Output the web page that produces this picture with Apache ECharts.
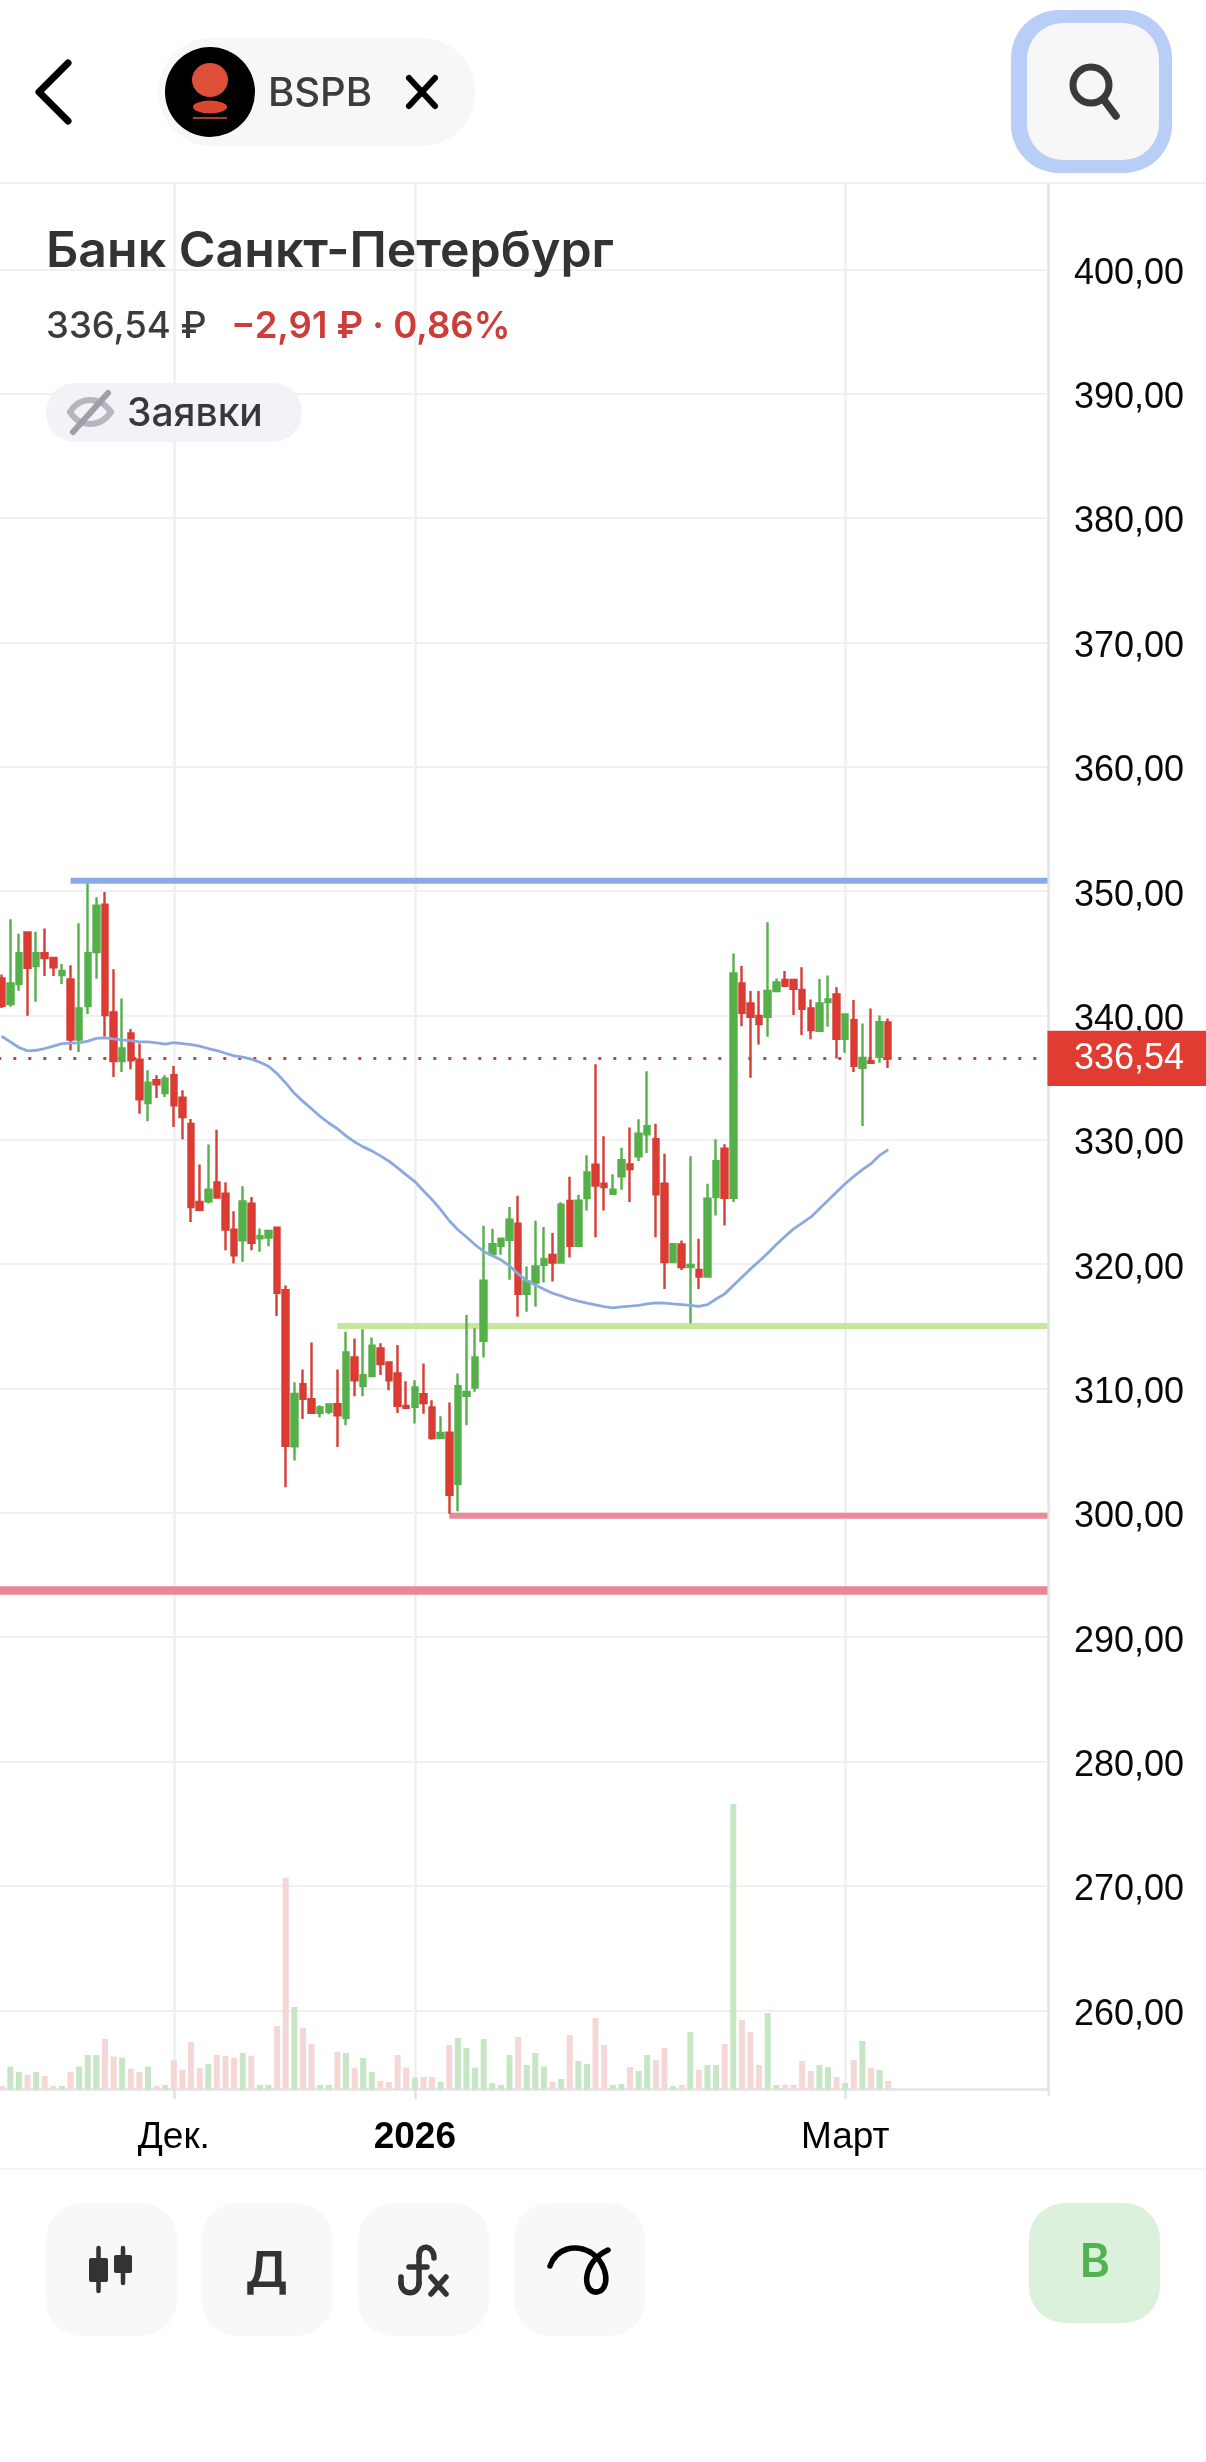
<!DOCTYPE html>
<html><head><meta charset="utf-8">
<style>html,body{margin:0;padding:0;background:#fff}#c{width:1206px;height:2462px}</style>
<script src="https://cdn.jsdelivr.net/npm/echarts@6/dist/echarts.min.js"></script>
</head><body><div id="c"></div>
<script>
const dates = ['2025-11-09','2025-11-10','2025-11-11','2025-11-12','2025-11-13','2025-11-14','2025-11-15','2025-11-16','2025-11-17','2025-11-18',
'2025-11-19','2025-11-20','2025-11-21','2025-11-24','2025-11-25','2025-11-26','2025-11-27','2025-11-28','2025-11-29','2025-11-30',
'2025-12-01','2025-12-02','2025-12-03','2025-12-04','2025-12-05','2025-12-08','2025-12-09','2025-12-10','2025-12-11','2025-12-12',
'2025-12-13','2025-12-14','2025-12-15','2025-12-16','2025-12-17','2025-12-18','2025-12-19','2025-12-20','2025-12-21','2025-12-22',
'2025-12-23','2025-12-24','2025-12-25','2025-12-26','2025-12-27','2025-12-28','2025-12-29','2025-12-30','2026-01-01','2026-01-02',
'2026-01-03','2026-01-04','2026-01-05','2026-01-06','2026-01-07','2026-01-08','2026-01-09','2026-01-10','2026-01-11','2026-01-12',
'2026-01-13','2026-01-14','2026-01-15','2026-01-16','2026-01-17','2026-01-18','2026-01-19','2026-01-20','2026-01-21','2026-01-22',
'2026-01-23','2026-01-24','2026-01-25','2026-01-26','2026-01-27','2026-01-28','2026-01-29','2026-01-30','2026-01-31','2026-02-01',
'2026-02-02','2026-02-03','2026-02-04','2026-02-05','2026-02-06','2026-02-09','2026-02-10','2026-02-11','2026-02-12','2026-02-13',
'2026-02-14','2026-02-15','2026-02-23','2026-02-24','2026-02-25','2026-02-26','2026-02-27','2026-02-28','2026-03-01','2026-03-02',
'2026-03-03','2026-03-04','2026-03-05','2026-03-06'];
const opens = [342.98,340.91,342.53,346.67,343.98,345,344.62,343.25,342.9,338.06,
340.75,345.1,348.9,340.24,336.34,338.55,336.45,332.96,334.79,333.76,
335.19,333.39,331.28,325,325.05,326.58,325.67,322.78,321.92,324.87,
322.08,322.14,322.94,317.91,305.35,310.35,309.14,308.04,308.12,308.74,
307.64,312.5,310.19,311,313.23,312.1,311.21,308.6,308.52,309.54,
308.47,306.02,306.45,302.34,309.41,310.08,313.84,320.81,321.48,321.96,
323.25,317.61,318.52,319.95,320.75,320.13,325.08,321.48,325.31,328,
326.47,325.66,327.06,328.02,328.67,330.44,330.04,326.47,320.16,321.58,
319.76,319.54,319,325.39,329.29,325.34,342.58,340.97,339.95,339.89,
341.96,342.85,342.85,342.04,340.56,338.76,341.07,341.69,338.12,339.62,
335.78,336.32,336.67,339.44];
const closes = [340.78,342.58,345,343.84,345,344.62,343.87,343.58,338.06,340.56,
345,348.82,340.03,336.34,337.34,336.4,333.25,334.6,334.46,334.92,
332.77,331.83,324.6,324.38,325.99,325.35,322.78,320.72,325.05,321.71,
322.25,322.67,317.7,305.4,309.57,309.17,308.04,308.47,308.71,307.85,
312.9,310.67,311.08,313.44,311.96,310.67,308.6,308.44,310.08,308.84,
306.02,306.43,301.45,310.19,309.73,312.5,318.66,321.61,322.04,323.58,
317.61,318.6,319.81,320.4,320.13,324.78,321.48,325.11,327.38,326.33,
326.2,325.98,328.35,327.65,330.49,331.09,325.61,320.16,321.6,319.76,
319.94,319,325.26,328.27,325.34,343.38,340.21,339.89,339.3,341.96,
342.66,342.39,342.15,340.54,338.82,340.97,341.29,338.12,340.08,335.95,
336.59,336.19,339.46,336.54];
const lows = [340.6,340.7,341.99,339.97,341.1,343.17,343.17,342.53,337.2,337.07,
340.11,342.96,338.28,335.05,335.46,335.67,332.1,331.5,333.36,333.44,
331.02,330.05,323.4,324.38,324.87,325.27,321.12,320.05,320.19,321.12,
320.99,321.44,315.83,302.06,304.22,307.55,308.04,307.66,307.93,305.3,
307.04,309.38,309.38,311,311.08,309.87,308.04,308.39,307.18,307.98,
305.89,306.02,299.92,300.13,307.04,309.73,312.5,320.75,320.75,318.74,
315.78,316.18,316.59,318.52,318.6,320.13,320.54,321.43,324.32,322.17,
324.32,325.66,325.98,324.99,328.29,328.94,322.17,318.01,320.16,319.54,
315.24,318.01,318.95,323.92,323.11,324.99,339.14,334.98,337.66,338.28,
341.91,342.39,340.03,338.42,338.09,338.76,339.09,336.54,336.99,335.46,
331.11,336.13,336.19,335.78];
const highs = [343.3,347.74,346.56,346.77,346.72,347,344.62,344.14,344.03,347.42,
350.6,349.5,349.92,343.71,341.37,338.9,337.74,335.6,335.19,335.19,
335.94,333.98,331.68,328.02,329.63,330.8,326.58,324.25,326.26,325.4,
322.86,322.67,322.94,318.29,310.51,311.53,313.71,308.66,308.71,311.53,
314.57,314.03,314.76,314.11,313.63,312.15,313.49,310.59,310.67,312.02,
309.06,307.77,308.87,311.21,315.91,314.84,323.09,322.85,322.04,324.6,
325.51,319.81,323.49,322.98,322.5,324.97,327.02,325.59,328.75,336.08,
330.28,327.22,329.37,330.98,331.65,335.52,331.3,328.88,321.63,321.9,
328.67,322.04,326.47,330.04,329.64,344.99,343.97,341.96,341.96,347.49,
342.98,343.57,342.9,343.87,341.29,342.93,343.22,342.26,340.08,341.24,
339.36,340.56,340,339.76];
const volumes = [10,68,52,43,52,40,10,10,52,68,
103,103,151,98,95,62,52,68,10,13,
88,59,142,65,76,103,100,95,109,101,
13,13,190,635,247,185,136,13,13,112,
109,65,94,52,25,22,103,65,35,37,
37,22,133,154,124,65,151,19,13,103,
157,73,109,68,22,31,163,85,76,214,
133,13,16,67,55,103,88,124,10,13,
172,58,73,73,136,856,208,172,73,229,
13,13,13,85,55,73,67,37,19,88,
145,64,58,25];
const movingAverage = [338.33,337.88,337.42,337.15,337.2,337.34,337.53,337.74,337.77,337.8,
337.93,338.15,338.2,338.12,338.04,337.98,337.88,337.88,337.8,337.69,
337.82,337.74,337.66,337.53,337.34,337.18,336.96,336.75,336.64,336.48,
336.24,335.91,335.32,334.57,333.74,333.09,332.5,331.88,331.35,330.89,
330.31,329.83,329.43,329.11,328.71,328.28,327.74,327.18,326.64,325.91,
325.19,324.38,323.49,322.77,322.18,321.56,321.02,320.67,320.35,319.87,
319.22,318.68,318.33,317.98,317.66,317.45,317.2,317.02,316.86,316.72,
316.59,316.48,316.56,316.62,316.69,316.8,316.88,316.86,316.8,316.75,
316.69,316.61,316.75,317.2,317.61,318.28,318.95,319.62,320.24,320.88,
321.58,322.23,322.84,323.3,323.78,324.45,325.12,325.8,326.47,327.06,
327.6,328.08,328.75,329.21];
const levelStarts = [8,39,52,0];
const levelPrices = [350.84,315.03,299.77,293.75];
const lastPrice = 336.54;
const tickDates = ['2025-12-01','2026-01-01','2026-03-01'];
const tickTexts = ['Дек.','2026','Март'];
const categories = dates.concat(Array(18).fill(''));

const levelColors = ['#8aa9e8','#c6e69b','#ea8a9b','#ea8796'];
const levelWidths = [6,6,6,8.5];
const RED='#df3b30', GREEN='#55b04a';
const isTick = (i,v)=>tickDates.indexOf(v)>=0;
const fmtPrice = v=>v.toFixed(2).replace('.',',');
const LEFT=-2.6, WIDTH=1050.05;
const UIFONT='Inter';

const chart = echarts.init(document.getElementById('c'),null,{renderer:'canvas'});

// interface chrome
const g=[];
const Z=50;
const rect=(x,y,w,h,r,fill,z)=>g.push({type:'rect',z:z||Z,shape:{x,y,width:w,height:h,r},style:{fill}});
const txt=(t,x,y,size,weight,fill,family,align)=>g.push({type:'text',z:Z+1,style:{text:t,x,y,fill,font:`${weight} ${size}px "${family||UIFONT}"`,textAlign:align||'left',textVerticalAlign:'middle'}});
const poly=(pts,stroke,w)=>g.push({type:'polyline',z:Z+1,shape:{points:pts},style:{stroke,lineWidth:w,fill:null,lineCap:'round',lineJoin:'round'}});
const bez=(x1,y1,cpx1,cpy1,cpx2,cpy2,x2,y2,stroke,w)=>g.push({type:'bezierCurve',z:Z+1,shape:{x1,y1,cpx1,cpy1,cpx2,cpy2,x2,y2},style:{stroke,lineWidth:w,fill:null,lineCap:'round'}});
const blob=(cx,cy,rx,ry,fill)=>g.push({type:'circle',z:Z+1,x:cx,y:cy,scaleX:rx,scaleY:ry,shape:{cx:0,cy:0,r:1},style:{fill}});
// frame lines
rect(0,182,1206,2,0,'#f0f0f0');
rect(0,2168,1206,2,0,'#f4f4f4');
rect(1047.5,2091,2.6,5,0,'#e4e4e4');
// header
poly([[68,63],[39,92],[68,121]],'#000',7);
rect(158,38,317,108,54,'#f7f7f7');
blob(210,92,45,45,'#000');
blob(210,80,18,17,'#dd4f38');
blob(210,107,17,6.5,'#d9472f');
rect(193,117,34,2,0,'#a04038',Z+1);
txt('BSPB',268,94,40,500,'#3c3c3c');
poly([[409,78],[435,106]],'#000',6);
poly([[435,78],[409,106]],'#000',6);
rect(1011,10,161,163,48,'#b8cef6');
rect(1027,23,132,137,36,'#f7f7f7',Z+1);
g.push({type:'circle',z:Z+2,shape:{cx:1091,cy:85,r:18},style:{stroke:'#3a3a3a',lineWidth:7,fill:null}});
g.push({type:'line',z:Z+2,shape:{x1:1104,y1:100,x2:1116,y2:116},style:{stroke:'#3a3a3a',lineWidth:7.5,lineCap:'round'}});
// title
txt('Банк Санкт-Петербург',46,252,50,600,'#333');
txt('336,54 ₽',46,327,36.5,500,'#3c3c3c');
txt('−2,91 ₽ · 0,86%',231,327,36.5,600,'#cc3d3a');
rect(46,383,256,59,29,'#f2f3f6');
bez(70,412,80,396,100,396,111,412,'#b4b7be',6);
bez(70,412,80,428,100,428,111,412,'#b4b7be',6);
poly([[73,432],[108,393]],'#9da0a8',6);
txt('Заявки',127,414,39,500,'#38383c');
// bottom toolbar
[46,201.5,358,514].forEach(x=>rect(x,2203,131,133,36,'#f8f8f8'));
rect(1029,2203,131,120,36,'#dcf1dc');
txt('В',1095,2263,46,600,'#52b352',UIFONT,'center');
txt('Д',266.5,2272,50,600,'#333',UIFONT,'center');
poly([[98.5,2248],[98.5,2291]],'#333',4.5);
poly([[123,2248],[123,2283]],'#333',4.5);
rect(89,2258,19,24,2,'#333',Z+1);
rect(114,2255,18,18,2,'#333',Z+1);
bez(434,2258,434,2245,419,2243,419,2256,'#333',5.5);
poly([[419,2256],[419,2283]],'#333',5.5);
bez(419,2283,419,2296,401,2296,401,2283,'#333',5.5);
poly([[401,2283],[401,2277]],'#333',5.5);
poly([[409,2267],[427,2267]],'#333',5.5);
poly([[431,2277],[446,2294]],'#333',5.5);
poly([[446,2277],[431,2294]],'#333',5.5);
bez(550,2266,556,2248,575,2244,590,2252,'#000',5.5);
bez(590,2252,610,2264,610,2292,596,2292,'#000',5.5);
bez(596,2292,582,2292,582,2262,608,2250,'#000',5.5);

const option={
  animation:false,
  backgroundColor:'#fff',
  graphic:{elements:g},
  grid:[
    {left:LEFT,width:WIDTH,top:269.3,height:1741,containLabel:false,outerBoundsMode:'none'},
    {left:LEFT,width:WIDTH,top:183,height:1908,containLabel:false,outerBoundsMode:'none'}
  ],
  xAxis:[
    {type:'category',gridIndex:0,data:categories,show:false,boundaryGap:true},
    {type:'category',gridIndex:1,data:categories,boundaryGap:true,
     axisLine:{show:true,lineStyle:{color:'#e4e4e4',width:2.6}},
     axisTick:{show:true,length:10,alignWithLabel:true,interval:isTick,lineStyle:{color:'#e2e2e2',width:2.5}},
     splitLine:{show:true,alignWithLabel:true,interval:isTick,lineStyle:{color:'#efefef',width:2.5}},
     axisLabel:{show:true,interval:isTick,margin:28,hideOverlap:false,
       fontFamily:'Liberation Sans',fontSize:37,color:'#000',
       formatter:v=>{const i=tickDates.indexOf(v);if(i<0)return '';return v.startsWith('2026-01')?`{b|${tickTexts[i]}}`:tickTexts[i];},
       rich:{b:{fontFamily:'Liberation Sans',fontSize:37,fontWeight:'bold',color:'#000'}}}}
  ],
  yAxis:[
    {type:'value',gridIndex:0,position:'right',min:260,max:400,interval:10,
     axisLine:{show:false},axisTick:{show:false},
     splitLine:{show:true,lineStyle:{color:'#f0f0f0',width:2}},
     axisLabel:{show:true,margin:26.5,align:'left',fontFamily:'Liberation Sans',fontSize:36,color:'#0a0a0a',
       formatter:v=>`{p|${fmtPrice(v)}}`,
       rich:{p:{fontFamily:'Liberation Sans',fontSize:36,color:'#0a0a0a',padding:[9,0,0,0]}},
       showMinLabel:true,showMaxLabel:true}},
    {type:'value',gridIndex:1,position:'right',offset:1,min:-5,max:5719,
     axisLine:{show:true,onZero:false,lineStyle:{color:'#e4e4e4',width:2.6}},axisTick:{show:false},
     splitLine:{show:false},axisLabel:{show:false}}
  ],
  series:[
    {type:'bar',name:'Объём',xAxisIndex:1,yAxisIndex:1,barWidth:6,z:1,clip:false,
     data:volumes.map((v,i)=>({value:v,itemStyle:{color:closes[i]<opens[i]?'#f5d7d7':'#c6e6c6'}}))},
    {type:'custom',name:'Уровни',xAxisIndex:0,yAxisIndex:0,z:2,clip:false,
     data:levelStarts.map((s,i)=>[s,levelPrices[i],i]),
     renderItem:(p,api)=>{
       const idx=api.value(2);
       const a=api.coord([api.value(0),api.value(1)]);
       const cs=p.coordSys;
       return {type:'line',shape:{x1:api.value(0)===0?cs.x:a[0],y1:a[1],x2:cs.x+cs.width,y2:a[1]},
         style:{stroke:levelColors[idx],lineWidth:levelWidths[idx],fill:null}};
     }},
    {type:'custom',name:'Текущая цена',xAxisIndex:0,yAxisIndex:0,z:2,clip:false,
     data:[[0,lastPrice]],
     renderItem:(p,api)=>{
       const a=api.coord([api.value(0),api.value(1)]);
       const cs=p.coordSys;
       return {type:'line',shape:{x1:cs.x+0.9,y1:a[1],x2:cs.x+cs.width,y2:a[1]},
         style:{stroke:'#b34a4a',lineWidth:3,lineDash:[3,12],fill:null}};
     }},
    {type:'candlestick',name:'BSPB',xAxisIndex:0,yAxisIndex:0,barWidth:6,z:3,clip:false,
     data:opens.map((o,i)=>[o,closes[i],lows[i],highs[i]]),
     itemStyle:{color:GREEN,color0:RED,borderColor:GREEN,borderColor0:'#d63d34',borderWidth:2.4}},
    {type:'line',name:'MA',xAxisIndex:0,yAxisIndex:0,data:movingAverage,showSymbol:false,symbol:'none',smooth:false,z:4,
     lineStyle:{color:'#8ba9df',width:2.8}},
    {type:'custom',name:'Метка цены',xAxisIndex:0,yAxisIndex:0,z:6,clip:false,
     data:[[103,lastPrice]],
     renderItem:(p,api)=>{
       const a=api.coord([api.value(0),api.value(1)]);
       const cs=p.coordSys;
       const x=cs.x+cs.width;
       return {type:'group',children:[
         {type:'rect',shape:{x:x,y:a[1]-27.6,width:1206-x,height:55.2},style:{fill:'#e03c31'}},
         {type:'text',style:{text:fmtPrice(api.value(1)),x:1074,y:a[1]+1,fill:'#fff',font:'36px "Liberation Sans"',textAlign:'left',textVerticalAlign:'middle'}}
       ]};
     }}
  ]
};
chart.setOption(option);
</script></body></html>
